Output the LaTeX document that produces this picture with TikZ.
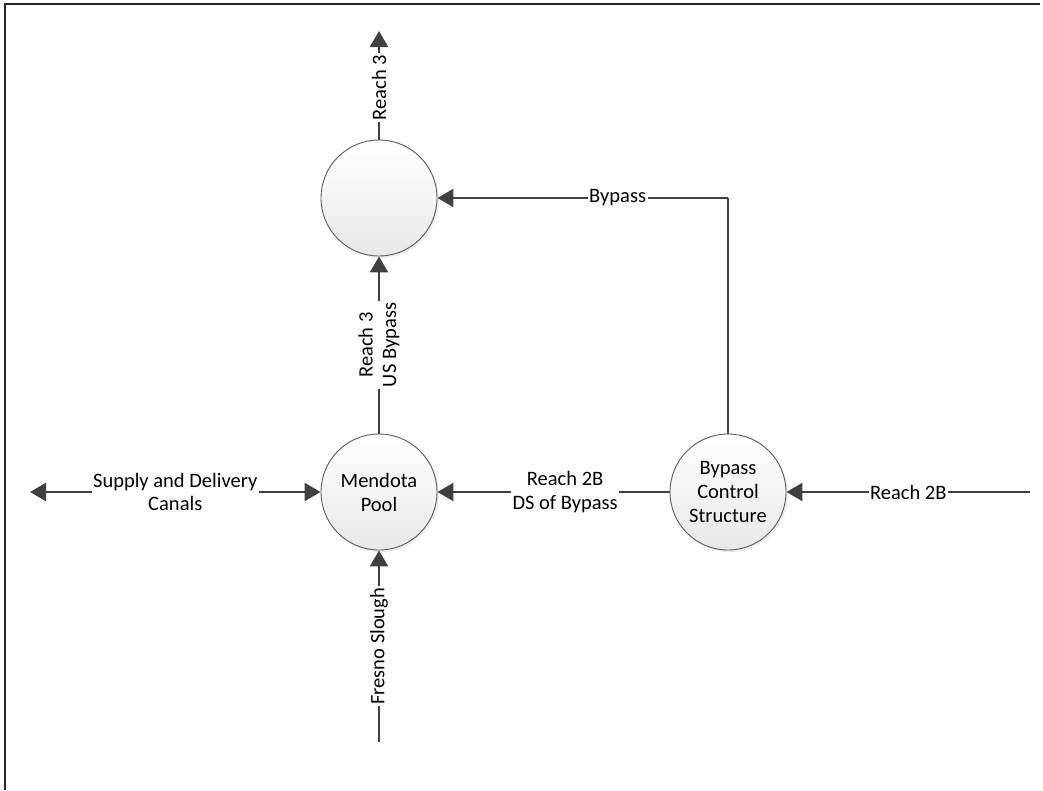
\documentclass[tikz,border=0pt]{standalone}
\usepackage{fontspec}
\setmainfont{Carlito}
\usetikzlibrary{arrows.meta,shadows}
\definecolor{lineg}{HTML}{404040}
\definecolor{circg}{HTML}{5A5A5A}
\tikzset{
  proc/.style={circle, minimum size=116pt, inner sep=0pt, draw=circg, line width=0.9pt,
    top color=white, bottom color=black!9, align=center,
    font=\fontsize{20.5}{24}\selectfont,
    drop shadow={shadow xshift=2pt, shadow yshift=-2pt, fill=black!12, opacity=0.6}},
  flow/.style={draw=lineg, line width=2.4pt, -{Triangle[length=16pt,width=18pt]}},
  flowplain/.style={draw=lineg, line width=2.4pt},
  lbl/.style={fill=white, inner sep=1.5pt, align=center, font=\fontsize{20.5}{23.5}\selectfont, text=black},
}
\begin{document}
\begin{tikzpicture}[x=1pt,y=-1pt]
\useasboundingbox (0,0) rectangle (1043,790);
\draw[line width=1.6pt, draw=black!85] (5,790) -- (5,4) -- (1040,4);

\node[proc] (top) at (379,198) {};
\node[proc] (mp) at (379,492) {Mendota\\Pool};
\node[proc] (bcs) at (728,492) {Bypass\\Control\\Structure};

\coordinate (r3end) at (379,31);
\coordinate (sdend) at (30,492);
\coordinate (fsend) at (379,742);
\coordinate (r2bend) at (1030,492);
\coordinate (bpcorner) at (728,198);

\draw[flow] (top.north) -- node[lbl, rotate=90, pos=0.48] {Reach 3} (r3end);
\draw[flow] (mp.north) -- node[lbl, rotate=90] {Reach 3\\US Bypass} (top.south);
\draw[flow, {Triangle[length=16pt,width=18pt]}-{Triangle[length=16pt,width=18pt]}] (sdend) -- node[lbl] {Supply and Delivery\\Canals} (mp.west);
\draw[flow] (fsend) -- node[lbl, rotate=90] {Fresno Slough} (mp.south);
\draw[flow] (bcs.west) -- node[lbl, pos=0.45] {Reach 2B\\DS of Bypass} (mp.east);
\draw[flow] (r2bend) -- node[lbl, pos=0.5] {Reach 2B} (bcs.east);
\draw[flowplain] (bcs.north) -- (bpcorner);
\draw[flow] (bpcorner) -- node[lbl, pos=0.38] {Bypass} (top.east);
\end{tikzpicture}
\end{document}
